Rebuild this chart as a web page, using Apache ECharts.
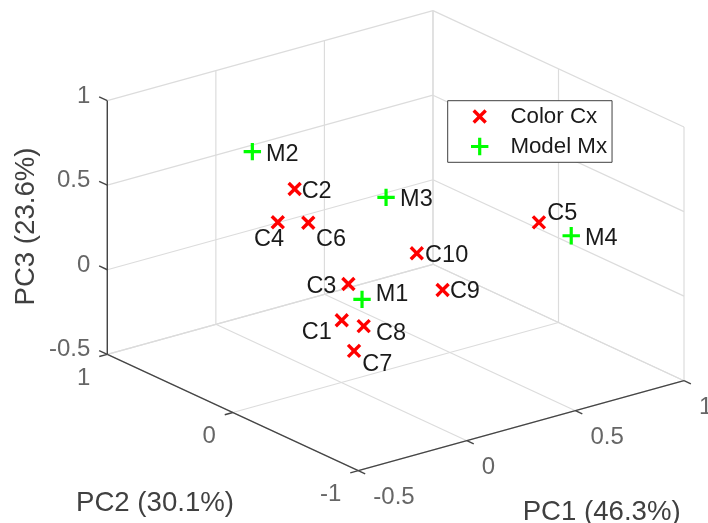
<!DOCTYPE html>
<html><head><meta charset="utf-8">
<style>html,body{margin:0;padding:0;background:#fff}#c{width:708px;height:523px}</style>
<script src="https://cdn.jsdelivr.net/npm/echarts@6/dist/echarts.min.js"></script>
</head><body><div id="c"></div>
<script>
// ---- data ----
const colorNames = ['C1','C2','C3','C4','C5','C6','C7','C8','C9','C10'];
const colorPC1 = [-0.056, 0.016, 0.148, 0.054, 0.852, 0.021, -0.115, 0.045, 0.524, 0.463];
const colorPC2 = [-0.1, 0.4, 0.2, 0.6, -0.1, 0.3, -0.3, -0.1, 0.1, 0.2];
const colorPC3 = [-0.078, 0.501, -0.039, 0.222, 0.179, 0.334, -0.169, -0.148, -0.173, 0.031];
const modelNames = ['M1','M2','M3','M4'];
const modelPC1 = [0.153, -0.121, 0.437, 0.943];
const modelPC2 = [0.1, 0.5, 0.4, -0.2];
const modelPC3 = [-0.097, 0.736, 0.302, 0.102];
const pc1Ticks = [-0.5, 0, 0.5, 1];
const pc2Ticks = [-1, 0, 1];
const pc3Ticks = [-0.5, 0, 0.5, 1];
const seriesNames = ['Color Cx', 'Model Mx'];
const axisTitles = ['PC1 (46.3%)', 'PC2 (30.1%)', 'PC3 (23.6%)'];

// ---- view: orthographic projection of the 3-D box onto the page ----
function project(p1, p2, p3) {
  const a = p1 + 0.5, b = p2 + 1, c = p3 + 0.5;
  return [358.3 + 217.13 * a - 125.5 * b, 470.7 - 60 * a - 58.2 * b - 169.1 * c];
}
function seg(A, B) { return project(...A).concat(project(...B)); }

const gridSegs = [], axisSegs = [];
pc1Ticks.forEach(p => {
  gridSegs.push(seg([p,-1,-0.5],[p,1,-0.5]));
  gridSegs.push(seg([p,1,-0.5],[p,1,1]));
});
pc2Ticks.forEach(q => {
  gridSegs.push(seg([-0.5,q,-0.5],[1,q,-0.5]));
  gridSegs.push(seg([1,q,-0.5],[1,q,1]));
});
pc3Ticks.forEach(z => {
  gridSegs.push(seg([-0.5,1,z],[1,1,z]));
  gridSegs.push(seg([1,-1,z],[1,1,z]));
});
axisSegs.push(seg([-0.5,1,-0.5],[-0.5,-1,-0.5]));
axisSegs.push(seg([-0.5,-1,-0.5],[1,-1,-0.5]));
axisSegs.push(seg([-0.5,1,-0.5],[-0.5,1,1]));
pc1Ticks.forEach(p => axisSegs.push(seg([p,-1,-0.5],[p,-1.055,-0.5])));
pc2Ticks.forEach(q => axisSegs.push(seg([-0.5,q,-0.5],[-0.537,q,-0.5])));
pc3Ticks.forEach(z => axisSegs.push(seg([-0.5,1,z],[-0.5,1.065,z])));

// symbols share an 18-unit box so they keep their relative size in the legend
const guard = 'M-9 -9L-9 -9ZM9 9L9 9Z';
const crossPath = 'path://' + guard + 'M-7.2 -4.8L-4.8 -7.2L0 -2.4L4.8 -7.2L7.2 -4.8L2.4 0L7.2 4.8L4.8 7.2L0 2.4L-4.8 7.2L-7.2 4.8L-2.4 0Z';
const plusPath = 'path://' + guard + 'M-1.6 -8.7L1.6 -8.7L1.6 -1.6L8.7 -1.6L8.7 1.6L1.6 1.6L1.6 8.7L-1.6 8.7L-1.6 1.6L-8.7 1.6L-8.7 -1.6L-1.6 -1.6Z';

const FONT = '"Liberation Sans", Arial, sans-serif';
const colorOffsets = {C1:[-40,12.5],C2:[7,2.5],C3:[-42,2.5],C4:[-23.7,17.5],C5:[8.3,-9],C6:[7.7,16.5],C7:[8.3,13.5],C8:[12.3,7.5],C9:[7.3,1.5],C10:[8.3,2.5]};
const modelOffsets = {M1:[13.7,-4.5],M2:[13.7,2.5],M3:[14,2.5],M4:[13.7,2.5]};

function points(names, a, b, c, offs) {
  return names.map((n, i) => ({
    name: n,
    value: project(a[i], b[i], c[i]),
    label: { offset: offs[n] }
  }));
}
function markSeries(name, sym, color, data) {
  return {
    type: 'scatter', name, symbol: sym, symbolSize: 18, symbolKeepAspect: true,
    itemStyle: { color, opacity: 1 }, data, z: 5, silent: true,
    label: { show: true, position: 'inside', align: 'left', verticalAlign: 'middle',
      formatter: '{b}', color: '#1a1a1a', fontFamily: FONT, fontSize: 23.5 }
  };
}
function segSeries(data, color, width, z) {
  return {
    type: 'custom', data, z, silent: true, clip: false, coordinateSystem: 'cartesian2d',
    encode: { x: [0, 2], y: [1, 3] },
    renderItem(params, api) {
      const s = api.coord([api.value(0), api.value(1)]);
      const e = api.coord([api.value(2), api.value(3)]);
      return { type: 'line', shape: { x1: s[0], y1: s[1], x2: e[0], y2: e[1] },
        style: { stroke: color, lineWidth: width, fill: null } };
    }
  };
}
function tickSeries(ticks, pos, align, off) {
  return {
    type: 'scatter', symbolSize: 1, itemStyle: { color: 'transparent' }, z: 4, silent: true,
    data: ticks.map(t => ({ name: String(t), value: pos(t) })),
    label: { show: true, position: 'inside', align, verticalAlign: 'middle', offset: off,
      formatter: '{b}', color: '#404040', fontFamily: FONT, fontSize: 24 }
  };
}

const chart = echarts.init(document.getElementById('c'), null, { renderer: 'canvas' });
chart.setOption({
  animation: false,
  grid: { left: 0, right: 0, top: 0, bottom: 0 },
  xAxis: { type: 'value', min: 0, max: 708, show: false },
  yAxis: { type: 'value', min: 0, max: 523, inverse: true, show: false },
  legend: {
    left: 447.7, top: 100.7, orient: 'vertical', padding: [3.3, 5, 3.3, 23],
    itemWidth: 18, itemHeight: 18, itemGap: 5,
    backgroundColor: '#fff', borderColor: '#404040', borderWidth: 1,
    textStyle: { color: '#1a1a1a', fontFamily: FONT, fontSize: 22.3, lineHeight: 22, padding: [3, 0, 0, 16.7] },
    data: [
      { name: seriesNames[0], icon: crossPath },
      { name: seriesNames[1], icon: plusPath }
    ]
  },
  graphic: [
    { type: 'text', x: 601.7, y: 512, z: 10, silent: true, style: { text: axisTitles[0], fill: '#404040', font: '27.6px ' + FONT, align: 'center', verticalAlign: 'middle' } },
    { type: 'text', x: 155, y: 503.5, z: 10, silent: true, style: { text: axisTitles[1], fill: '#404040', font: '27.6px ' + FONT, align: 'center', verticalAlign: 'middle' } },
    { type: 'text', x: 26, y: 226.5, rotation: Math.PI / 2, z: 10, silent: true, style: { text: axisTitles[2], fill: '#404040', font: '27.6px ' + FONT, align: 'center', verticalAlign: 'middle' } }
  ],
  series: [
    segSeries(gridSegs, '#dcdcdc', 1.2, 1),
    segSeries(axisSegs, '#454545', 1.4, 2),
    tickSeries(pc1Ticks, t => project(t, -1, -0.5), 'left', [15, 26.5]),
    tickSeries(pc2Ticks, t => project(-0.5, t, -0.5), 'right', [-17, 24]),
    tickSeries(pc3Ticks, t => project(-0.5, 1, t), 'right', [-17, -4.5]),
    markSeries(seriesNames[0], crossPath, '#ff0000', points(colorNames, colorPC1, colorPC2, colorPC3, colorOffsets)),
    markSeries(seriesNames[1], plusPath, '#00ff00', points(modelNames, modelPC1, modelPC2, modelPC3, modelOffsets))
  ]
});
</script></body></html>
